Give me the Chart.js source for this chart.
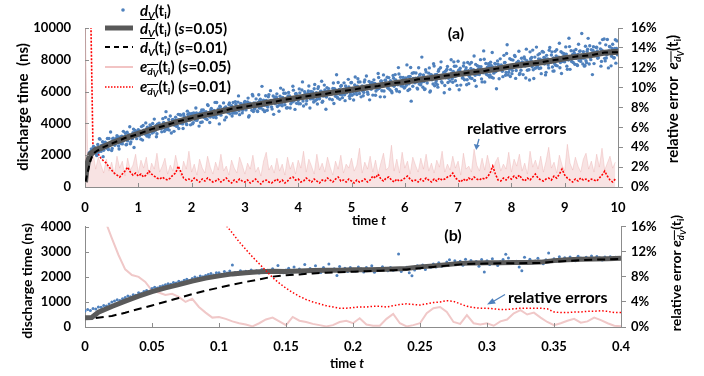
<!DOCTYPE html>
<html>
<head>
<meta charset="utf-8">
<script src="https://cdn.jsdelivr.net/npm/chart.js@4.4.1/dist/chart.umd.min.js"></script>
<style>
  body { margin: 0; width: 704px; height: 376px; overflow: hidden; position: relative; background: #fff;
         font-family: Lato, "Open Sans", sans-serif; font-weight: bold; color: #000; }
  canvas { position: absolute; left: 0; }
  #topChart { top: 0; }
  #botChart { top: 205px; }
  .txt { position: absolute; white-space: nowrap; line-height: 1; }
  .c { transform: translate(-50%, -50%); }
  .rot { transform: translate(-50%, -50%) rotate(-90deg); }
  sub { font-size: 0.68em; vertical-align: -0.28em; line-height: 0; }
  sub sub { font-size: 0.85em; }
  .ov { display: inline-block; border-top: 1.4px solid #000; line-height: 1; padding-top: 1px; }
  .row { position: absolute; left: 102px; height: 20px; display: flex; align-items: center; font-size: 15px; white-space: nowrap; }
  .row svg { width: 34px; height: 20px; margin-right: 4px; flex: none; }
  #arrows { position: absolute; left: 0; top: 0; }
</style>
</head>
<body>
<canvas id="topChart" width="704" height="230"></canvas>
<canvas id="botChart" width="704" height="171"></canvas>

<!-- legend -->
<div class="row" style="top:0px"><svg><circle cx="21" cy="10" r="1.8" fill="#4f81bd"/></svg><span><i>d</i><sub><i>V</i></sub>(t<sub>i</sub>)</span></div>
<div class="row" style="top:18px"><svg><line x1="3" y1="10" x2="31" y2="10" stroke="#595959" stroke-width="5"/></svg><span><span class="ov"><i>d</i><sub><i>V</i></sub></span>(t<sub>i</sub>) (<i>s</i>=0.05)</span></div>
<div class="row" style="top:37px"><svg><line x1="3" y1="10" x2="31" y2="10" stroke="#000" stroke-width="2" stroke-dasharray="5 4"/></svg><span><span class="ov"><i>d</i><sub><i>V</i></sub></span>(t<sub>i</sub>) (<i>s</i>=0.01)</span></div>
<div class="row" style="top:57px"><svg><line x1="3" y1="10" x2="31" y2="10" stroke="#f2c4c4" stroke-width="2"/></svg><span><i>e</i><sub><span class="ov"><i>d</i><sub><i>V</i></sub></span></sub>(t<sub>i</sub>) (<i>s</i>=0.05)</span></div>
<div class="row" style="top:77px"><svg><line x1="3" y1="10" x2="31" y2="10" stroke="#ff0000" stroke-width="1.5" stroke-dasharray="1.5 1.5"/></svg><span><i>e</i><sub><span class="ov"><i>d</i><sub><i>V</i></sub></span></sub>(t<sub>i</sub>) (<i>s</i>=0.01)</span></div>

<!-- titles and notes -->
<div class="txt rot" style="left:22px;top:107px;font-size:15px">discharge time&nbsp;&nbsp;(ns)</div>
<div class="txt rot" style="left:27px;top:281px;font-size:14px">discharge time (ns)</div>
<div class="txt rot" style="left:674px;top:99px;font-size:15px">relative error&nbsp;&nbsp;<i>e</i><sub><span class="ov"><i>d</i><sub><i>V</i></sub></span></sub>(t<sub>i</sub>)</div>
<div class="txt rot" style="left:677px;top:273px;font-size:14px">relative error <i>e</i><sub><span class="ov"><i>d</i><sub><i>V</i></sub></span></sub>(t<sub>i</sub>)</div>
<div class="txt c" style="left:369px;top:220px;font-size:13px">time <i>t</i></div>
<div class="txt c" style="left:347px;top:363px;font-size:13px">time <i>t</i></div>
<div class="txt c" style="left:456px;top:33px;font-size:16px">(a)</div>
<div class="txt c" style="left:453px;top:235px;font-size:16px">(b)</div>
<div class="txt" style="left:467px;top:120px;font-size:16px">relative errors</div>
<div class="txt" style="left:508px;top:289px;font-size:16px">relative errors</div>
<svg id="arrows" width="704" height="376">
  <line x1="479" y1="139" x2="477.3" y2="145" stroke="#4f81bd" stroke-width="1.3"/>
  <polygon points="473.8,144 479.8,145.2 476.2,150" fill="#4f81bd"/>
  <line x1="505" y1="294.5" x2="494" y2="301" stroke="#4f81bd" stroke-width="1.3"/>
  <polygon points="487,304.5 492.5,298.3 495.8,303.4" fill="#4f81bd"/>
</svg>

<script>
// ---- panel (a): 0 <= t <= 10 ----
// discharge time samples, one every 0.02 time units (second set offset by 0.01)
const topDvStep = 0.02;
const topDv = [
  600,1100,1500,1800,2150,1950,2400,2150,2550,2250,
  2440,1980,2670,2350,3010,2240,2550,1910,2750,2810,
  2460,3050,2350,2690,3460,2300,3030,2780,2630,3010,
  3220,2790,2390,3150,3040,2710,3500,2970,3380,2670,
  2900,3270,3790,2830,3100,3410,2480,3560,3370,3360,
  3600,3200,3390,3800,2950,3570,3450,4030,3210,3340,
  3150,3910,3750,3390,3690,4270,3560,3160,3950,3830,
  3850,3730,3470,4300,4040,3670,4740,3610,3840,3580,
  4470,3400,4230,4040,3880,4390,3810,4220,3680,4540,
  4520,4080,3680,4430,4310,3980,4770,4230,4630,3910,
  4460,3980,4660,4330,4970,4190,4480,3830,4650,4700,
  4090,4840,4680,4310,4610,5180,4460,4060,4840,4720,
  4450,4810,5320,4350,4610,4910,3970,5040,4840,4820,
  5290,4220,5040,4840,4680,5190,4600,5000,4460,5310,
  4800,5370,4650,4980,5730,4550,5260,5000,4830,5200,
  5380,4850,5080,5590,4480,5260,5090,5820,4750,4900,
  5270,5100,4750,5800,5450,4970,6330,4860,5140,4790,
  5440,4820,5680,5240,6060,5040,5410,4570,5610,5670,
  5860,5290,4760,5710,5540,5110,6110,5400,5900,4970,
  4980,5940,5720,5240,5610,6340,5410,4880,5880,5710,
  5440,6170,5240,5650,6610,5090,6000,5650,5430,5890,
  6350,4970,6010,5750,5540,6180,5420,5930,5220,6310,
  5550,6010,6650,5400,5730,6100,4890,6250,5990,5960,
  6010,5840,5490,6540,6190,5700,7060,5590,5870,5520,
  6340,5810,6040,6550,5430,6210,6040,6770,5700,5840,
  6570,6000,5470,6420,6250,5810,6810,6100,6610,5670,
  6360,5740,6600,6160,6980,5960,6330,5480,6530,6580,
  5780,6740,6520,6040,6410,7140,6200,5670,6670,6500,
  7050,5670,6710,6450,6240,6880,6120,6630,5920,7010,
  6340,7070,6140,6550,7510,5990,6900,6550,6330,6790,
  6270,6860,7680,6070,6490,6960,5400,7150,6820,6770,
  6840,6610,6160,7500,7050,6420,8170,6270,6630,6170,
  7230,6540,6840,7490,6040,7040,6820,7750,6370,6550,
  7080,6280,7390,6820,7870,6550,7020,5930,7270,7340,
  7580,6840,6150,7380,7160,6590,7870,6950,7600,6390,
  7910,6120,7470,7130,6850,7610,6750,7340,6430,7830,
  6500,7730,7450,6820,7300,8240,7030,6340,7630,7410,
  7070,8010,6800,7330,8560,6600,7770,7310,7030,7620,
  7050,7640,8460,6850,7270,7740,6180,7930,7600,7550,
  7620,7390,6940,8280,7830,7200,8950,7050,7410,6950,
  8010,7320,7620,8270,6830,7820,7600,8540,7160,7340,
  7870,7070,8180,7610,8670,7340,7820,6730,8070,8140,
  8610,6820,8170,7830,7550,8310,7450,8040,7130,8530,
  8480,7740,7050,8280,8060,7490,8770,7850,8500,7290,
  7300,8530,8250,7620,8100,9040,7830,7140,8430,8210,
  7870,8810,7600,8130,9360,7400,8570,8110,7830,8420,
  8320,8090,7640,8980,8530,7900,9650,7740,8100,7640,
  7940,8530,9350,7740,8150,8630,7070,8820,8480,8430,
  8790,8100,8400,9050,7600,8600,8380,9310,7930,8110,
  9280,7490,8840,8500,8220,8980,8120,8710,7790,9190
];
const topDvB = [
  850,1350,1700,1950,2100,2250,2200,2380,2300,2450,
  2070,2300,2180,3040,2320,2620,2850,2310,2540,2670,
  2470,2420,3050,2680,2810,2420,3070,2830,2730,3060,
  3160,2580,3010,2750,3200,2880,3030,3200,2650,3450,
  3270,3270,2720,3220,3040,3640,3220,3490,3040,3410,
  3410,3530,3010,3330,3870,3500,3320,3620,3760,3260,
  3280,3830,3570,3990,3460,3740,3860,3350,3670,4020,
  3890,3660,3810,4030,3510,4380,3910,3710,4250,3870,
  4020,4060,4230,3500,4190,4010,3850,4570,4240,4010,
  4030,3970,4590,4210,4330,3920,4560,4310,4200,4520,
  4630,4050,4470,4210,4650,4310,4450,4620,4060,4850,
  4620,4380,4520,4740,4250,5120,4610,4400,4940,4550,
  4390,4610,4470,5310,4570,4860,5080,4520,4730,4840,
  4960,4950,4390,4870,4690,5280,4840,5110,4640,5010,
  4650,5190,4920,5340,4800,5060,5180,4660,4980,5310,
  5100,5140,5350,4400,5270,5030,4820,5730,5290,4980,
  5540,4780,5310,4970,5520,5090,5260,5460,4740,5740,
  5110,5030,5810,5310,5450,4910,5720,5380,5230,5630,
  5060,5330,5150,6220,5270,5630,5900,5170,5440,5580,
  5720,5700,4970,5590,5350,6090,5530,5860,5260,5720,
  5240,5920,5580,6100,5410,5740,5880,5220,5610,6040,
  5850,5540,5710,5980,5350,6450,5790,5510,6190,5690,
  5890,6030,5330,5730,6410,5910,5660,6020,6190,5530,
  5960,6000,6200,5250,6130,5880,5670,6570,6130,5820,
  6380,5620,6140,5800,6350,5920,6090,6290,5560,6560,
  5770,6040,5860,6920,5970,6340,6600,5880,6140,6280,
  6030,5950,6730,6220,6360,5830,6640,6300,6150,6540,
  6520,6500,5770,6390,6140,6890,6320,6650,6050,6510,
  6040,6720,6380,6900,6210,6540,6680,6020,6410,6840,
  6590,6730,6030,6430,7110,6610,6360,6720,6890,6230,
  6790,6400,6610,6940,6150,7520,6690,6340,7190,6560,
  7170,6220,6870,6480,7090,6580,6790,7040,6130,7380,
  6870,6910,7160,5970,7060,6750,6480,7610,7060,6670,
  6440,7280,6850,7500,6630,7040,7210,6380,6870,7400,
  6570,6900,6670,8000,6810,7260,7590,6680,7000,7180,
  7350,7320,6410,7180,6870,7800,7090,7500,6750,7320,
  6970,6860,7830,7200,7370,6700,7710,7280,7090,7580,
  7390,7560,6610,7180,8030,7400,7090,7540,7750,6920,
  7850,6900,7550,7160,7770,7260,7470,7720,6810,8060,
  7670,7280,7490,7820,7030,8400,7570,7220,8070,7440,
  7130,7980,7550,8200,7330,7740,7910,7080,7570,8100,
  7750,7800,8050,6860,7950,7640,7370,8500,7950,7560,
  7370,7700,7470,8800,7610,8060,8390,7480,7800,7980,
  8150,8120,7210,7980,7670,8600,7890,8300,7550,8120,
  7770,7660,8630,8000,8170,7500,8510,8080,7890,8380,
  8190,8360,7410,7980,8830,8200,7890,8340,8550,7720,
  8650,7690,8340,7950,8560,8050,8260,8510,7600,8850,
  7820,8660,8230,8880,8010,8420,8590,7760,8250,8780,
  8550,8150,8360,8690,7900,9270,8440,8090,8940,8310,
  8520,8560,8810,7620,8710,8400,8130,9260,8710,8320
];

// smoothed curve, s = 0.05
const topMeanT = [0,0.02,0.05,0.1,0.2,0.3,
  0.5,0.75,1,1.25,1.5,1.75,2,2.25,2.5,2.75,3,3.25,3.5,3.75,4,4.25,4.5,4.75,5,5.25,
  5.5,5.75,6,6.25,6.5,6.75,7,7.25,7.5,7.75,8,8.25,8.5,8.75,9,9.25,9.5,9.75,10];
const topMean = [300,1000,1500,2050,2330,2450,
  2750,3060,3350,3620,3880,4110,4350,4540,4720,4900,5060,5190,5350,5470,5620,5740,5870,5990,6120,6240,
  6370,6500,6620,6750,6850,6970,7100,7200,7320,7440,7600,7700,7820,7940,8100,8200,8300,8450,8500];

// smoothed curve, s = 0.01
const topDashT = [0.01,0.05,0.1,0.15,0.2,0.3,
  0.5,0.75,1,1.25,1.5,1.75,2,2.25,2.5,2.75,3,3.25,3.5,3.75,4,4.25,4.5,4.75,5,5.25,
  5.5,5.75,6,6.25,6.5,6.75,7,7.25,7.5,7.75,8,8.25,8.5,8.75,9,9.25,9.5,9.75,10];
const topDash = [350,930,1650,2070,2220,2430,
  2730,3080,3330,3640,3860,4130,4330,4560,4700,4920,5040,5210,5330,5490,5600,5760,5850,6010,6100,6260,
  6350,6520,6600,6770,6830,6990,7080,7220,7300,7460,7580,7720,7800,7960,8080,8220,8290,8460,8480];

// relative errors (%), one value every 0.05 time units
const topErrStep = 0.05;
const topErr05 = [
  18,3.2,2.4,3.5,1.8,3.0,2.2,1.4,2.8,1.6,
  2.5,1.2,3.1,1.9,2.6,1.1,2.9,1.7,2.2,3.3,
  1.4,2.7,1.9,3.0,1.2,2.4,1.8,3.4,1.5,2.1,
  2.9,1.3,2.2,1.6,3.2,2.0,1.1,2.6,1.8,3.6,
  1.5,2.3,1.2,2.8,1.9,1.4,3.1,2.0,1.3,2.5,
  1.7,3.3,1.6,2.1,1.2,2.7,1.9,1.4,3.0,2.2,
  1.3,2.4,1.8,3.2,1.5,2.0,1.1,2.6,3.5,1.7,
  2.2,1.4,2.9,1.6,2.3,1.2,3.0,1.8,2.5,1.3,
  2.7,1.9,3.6,1.5,2.8,2.1,1.3,3.3,1.7,2.4,
  1.5,3.0,2.0,1.2,2.6,1.8,3.2,1.4,2.3,1.9,
  2.9,1.6,2.2,3.9,1.4,2.5,1.8,3.1,1.5,2.7,
  1.3,2.4,3.4,1.7,2.0,4.2,1.6,2.8,1.4,3.5,
  1.9,2.6,1.3,3.0,2.2,1.5,2.9,1.8,3.3,1.6,
  2.4,1.4,2.7,2.0,3.6,1.5,2.3,1.7,3.1,1.9,
  2.6,1.2,3.4,1.8,2.1,1.5,3.8,2.2,1.6,2.9,
  1.7,3.2,2.0,1.4,2.5,3.0,1.6,2.3,1.8,3.5,
  1.5,2.8,2.1,3.3,1.6,2.4,1.3,3.6,2.0,2.7,
  1.8,3.1,1.5,2.6,4.0,1.9,2.5,1.4,3.2,2.2,
  1.6,4.3,2.4,1.7,3.0,2.1,1.5,2.8,3.4,1.8,
  2.6,1.5,3.3,2.0,3.9,1.7,2.4,3.1,1.9,2.5
];
const topErr01 = [
  null,null,20,3.8,3.6,3.3,2.9,2.6,2.4,2.0,
  1.7,1.4,1.2,1.0,1.3,1.6,2.0,1.5,1.2,1.4,
  1.1,1.3,1.0,1.2,1.6,1.3,1.1,0.9,0.8,1.0,
  0.8,0.7,0.9,1.2,1.4,2.1,1.5,0.9,0.7,0.8,
  0.6,0.9,0.7,0.5,0.8,0.6,0.9,0.7,0.5,0.6,
  0.8,0.5,0.7,0.9,0.6,0.4,0.7,0.5,0.8,0.6,
  0.5,0.7,0.4,0.6,0.8,0.5,0.3,0.6,0.7,0.5,
  0.4,0.6,0.8,0.5,0.7,0.4,0.6,0.9,1.0,0.7,
  0.8,0.5,0.6,0.9,0.7,0.5,0.8,0.6,0.4,0.7,
  0.6,0.9,0.7,0.5,0.8,1.0,0.6,0.7,0.5,0.8,
  0.6,0.4,0.7,0.5,0.6,0.8,0.5,0.7,1.1,0.9,
  1.3,0.8,0.6,0.9,1.0,0.7,0.5,0.8,0.6,0.7,
  0.9,1.1,0.8,0.6,0.7,0.5,0.8,0.6,0.9,0.7,
  0.5,0.8,0.6,0.9,0.7,0.8,1.0,1.1,1.4,0.9,
  0.7,0.5,0.8,0.6,0.9,0.7,1.0,0.8,0.7,0.9,
  0.8,1.0,1.4,2.1,1.3,0.7,0.6,0.9,0.7,1.0,
  0.8,1.1,0.9,1.2,0.8,0.6,0.9,0.7,1.0,1.3,
  0.9,0.7,0.6,0.8,0.9,0.7,1.1,0.9,1.3,1.8,
  1.2,0.9,0.7,0.5,0.8,0.6,0.9,0.7,0.8,0.6,
  0.8,0.7,0.6,0.9,1.2,1.6,1.1,0.7,0.5,0.8
];

// ---- panel (b): 0 <= t <= 0.4 ----
const botDvStep = 0.002;
const botDv = [
  640,700,660,740,720,
  800,790,860,840,920,
  1000,1040,1090,1060,1130,
  1180,1240,1210,1290,1270,
  1370,1340,1420,1460,1410,
  1540,1590,1560,1620,1650,
  1690,1730,1710,1780,1760,
  1830,1800,1870,1910,1860,
  1940,2000,1960,2040,2010,
  2060,2100,2140,2080,2170,
  2170,2110,2220,2160,2240,
  2480,2180,2120,2250,2200,
  2230,2140,2280,2190,2250,
  2160,2300,2220,2270,2180,
  2330,2200,2460,2250,2170,
  2280,2350,2190,2400,2260,
  2320,2180,2500,2270,2340,
  2220,2450,2300,2180,2380,
  2290,2510,2240,2330,2060,
  2420,2280,2350,2220,2380,
  2310,2240,2400,2330,2200,
  2380,2270,2450,2190,2330,
  2290,2410,2350,2250,2380,
  2270,2340,2910,2220,2300,
  2390,2170,2050,2280,2450,
  2360,2480,2300,2420,2390,
  2510,2400,2560,2430,2470,
  2590,2680,2520,2640,2550,
  2620,2470,2700,2580,2650,
  2530,2610,2430,2690,2200,
  2640,2500,2720,2570,2460,
  2600,2690,2900,2750,2590,
  2540,2620,2400,2250,2780,
  2590,2700,2550,2630,2740,
  2600,2520,2680,2950,2660,
  2720,2630,2800,2690,2760,
  2680,2790,2710,2640,2820,
  2750,2690,2780,2720,2830,
  2700,2810,2760,2670,2790,
  2740,2800,2710,2780,2750
];
const botMeanT = [0,0.005,0.01,0.02,0.03,0.04,0.05,0.06,0.07,0.08,0.09,0.1,
  0.11,0.12,0.13,0.14,0.15,0.16,0.17,0.18,0.19,0.2,0.21,0.22,0.23,0.24,0.25,0.26,0.27,0.28,0.29,0.3,
  0.31,0.32,0.33,0.34,0.35,0.36,0.37,0.38,0.39,0.4];
const botMean = [370,380,590,820,1030,1230,1410,1560,1690,1830,1950,2040,
  2120,2170,2210,2230,2220,2240,2260,2270,2270,2290,2290,2300,2320,2340,2400,2440,2490,2540,2550,2560,
  2560,2570,2570,2590,2650,2680,2700,2710,2720,2740];
const botDashT = [0.008,0.02,0.03,0.04,0.05,0.06,0.07,0.08,0.09,0.1,
  0.11,0.12,0.13,0.14,0.15,0.16,0.17,0.18,0.19,0.2,0.21,0.22,0.23,0.24,0.25,0.26,0.27,0.28,0.29,0.3,
  0.31,0.32,0.33,0.34,0.35,0.36,0.37,0.38,0.39,0.4];
const botDash = [360,440,570,720,860,1010,1160,1310,1450,1570,
  1690,1800,1900,2010,2070,2100,2140,2170,2190,2210,2230,2250,2270,2300,2350,2400,2450,2500,2520,2530,
  2540,2540,2550,2560,2610,2640,2670,2690,2700,2720];

// relative errors (%), one value every 0.005 time units
const botErrStep = 0.005;
const botErr05Start = 0.015;
const botErr05 = [
  17,14.2,11.5,9.2,8.3,8.0,7.2,5.8,5.5,5.1,
  5.3,4.8,4.0,4.5,3.2,2.3,1.5,1.6,1.3,0.9,
  0.6,0.4,0.1,0.6,1.2,1.5,0.9,0.3,1.6,1.0,
  0.8,0.5,0.3,0.1,0.3,0.8,1.0,0.6,1.4,0.4,
  0.2,0.2,1.3,2.1,0.6,0.1,0.3,0.6,2.2,3.0,
  3.2,2.4,0.8,0.5,1.9,0.6,0.4,0.6,0.2,0.9,
  1.2,2.2,2.7,2.0,2.3,1.5,0.8,0.3,0.6,1.0,
  1.3,0.7,0.9,1.5,1.1,0.6,0.2,0.1
];
const botErr01Start = 0.1;
const botErr01 = [
  18,16.3,15.0,13.6,12.4,11.2,10.1,9.0,7.9,7.0,
  6.2,5.5,4.9,4.4,4.0,3.7,3.4,3.2,3.0,3.0,
  3.1,3.2,3.2,3.3,3.3,3.2,3.4,3.6,3.7,3.6,
  3.5,3.7,3.9,4.0,4.2,4.1,3.7,3.3,3.1,3.0,
  3.0,2.9,2.8,2.8,2.9,3.0,3.0,3.0,3.0,2.9,
  2.4,2.3,2.3,2.4,2.4,2.5,2.5,2.6,2.5,2.3,
  2.3
];

function pairs(ts, vs) { return vs.map((v, i) => ({ x: ts[i], y: v })); }
function evenly(t0, dt, vs) { return vs.map((v, i) => ({ x: +(t0 + i * dt).toFixed(4), y: v })); }

Chart.defaults.font.family = 'Lato';
Chart.defaults.color = '#000';
const tickFont = { family: 'Lato', size: 13, weight: 'bold' };
const axisGray = '#8c8c8c';
const dotBlue = '#4f81bd';

// short inward tick marks on the left and bottom axes
const innerTicks = {
  id: 'innerTicks',
  afterDraw(chart) {
    const ctx = chart.ctx, a = chart.chartArea;
    ctx.save();
    ctx.strokeStyle = axisGray;
    ctx.lineWidth = 1;
    ['x', 'y'].forEach(id => {
      const s = chart.scales[id];
      s.ticks.forEach(t => {
        const p = Math.round(s.getPixelForValue(t.value)) + 0.5;
        ctx.beginPath();
        if (id === 'x') { ctx.moveTo(p, a.bottom); ctx.lineTo(p, a.bottom - 4); }
        else { ctx.moveTo(a.left, p); ctx.lineTo(a.left + 4, p); }
        ctx.stroke();
      });
    });
    ctx.restore();
  }
};

function makeChart(id, o) {
  return new Chart(document.getElementById(id), {
    type: 'scatter',
    data: { datasets: o.datasets },
    plugins: [innerTicks],
    options: {
      responsive: false,
      animation: false,
      layout: { padding: { top: o.padTop, left: 0, right: 0, bottom: 0 } },
      plugins: { legend: { display: false }, tooltip: { enabled: false } },
      scales: {
        x: {
          type: 'linear', min: 0, max: o.xMax,
          ticks: { stepSize: o.xStep, font: tickFont, padding: o.xPad, maxRotation: 0,
                   callback: v => String(+v.toFixed(2)) },
          grid: { display: false, drawTicks: false },
          border: { color: axisGray },
          afterFit: s => { s.height = o.xHeight; }
        },
        y: {
          position: 'left', min: 0, max: o.yMax,
          ticks: { stepSize: o.yStep, font: tickFont, padding: 14, callback: v => String(v) },
          grid: { display: false, drawTicks: false },
          border: { color: axisGray },
          afterFit: s => { s.width = 85; }
        },
        y1: {
          position: 'right', min: 0, max: 16,
          ticks: { stepSize: o.rStep, font: tickFont, padding: o.rPad, callback: v => v + '%' },
          grid: { drawOnChartArea: false, tickLength: 5, color: axisGray },
          border: { color: axisGray },
          afterFit: s => { s.width = o.rWidth; }
        }
      }
    }
  });
}

makeChart('topChart', {
  padTop: 28, xMax: 10, xStep: 1, xPad: 13, xHeight: 43,
  yMax: 10000, yStep: 2000, rStep: 2, rPad: 8, rWidth: 86,
  datasets: [
    { data: pairs(topDashT, topDash), yAxisID: 'y', showLine: true, borderColor: '#000',
      borderWidth: 2, borderDash: [6, 4], pointRadius: 0, order: 0 },
    { data: pairs(topMeanT, topMean), yAxisID: 'y', showLine: true, borderColor: '#595959',
      borderWidth: 6, pointRadius: 0, order: 1 },
    { data: evenly(0, topDvStep, topDv), yAxisID: 'y', pointRadius: 1.7, pointBorderWidth: 0,
      pointBackgroundColor: dotBlue, order: 2 },
    { data: evenly(0.01, topDvStep, topDvB), yAxisID: 'y', pointRadius: 1.7, pointBorderWidth: 0,
      pointBackgroundColor: dotBlue, order: 2 },
    { data: evenly(0, topErrStep, topErr01), yAxisID: 'y1', showLine: true, borderColor: '#ff0000',
      borderWidth: 1.6, borderDash: [2, 1.5], pointRadius: 0, order: 3 },
    { data: evenly(0, topErrStep, topErr05), yAxisID: 'y1', showLine: true,
      borderColor: 'rgba(232,165,165,0.45)', borderWidth: 0.8, backgroundColor: 'rgba(242,200,200,0.5)',
      fill: 'origin', pointRadius: 0, order: 4 }
  ]
});

makeChart('botChart', {
  padTop: 15, xMax: 0.4, xStep: 0.05, xPad: 12, xHeight: 49,
  yMax: 4000, yStep: 1000, rStep: 4, rPad: 5, rWidth: 83,
  datasets: [
    { data: evenly(botErr01Start, botErrStep, botErr01), yAxisID: 'y1', showLine: true,
      borderColor: '#ff0000', borderWidth: 1.5, borderDash: [1.5, 2], pointRadius: 0, order: 0 },
    { data: pairs(botDashT, botDash), yAxisID: 'y', showLine: true, borderColor: '#000',
      borderWidth: 2, borderDash: [8, 5], pointRadius: 0, order: 1 },
    { data: pairs(botMeanT, botMean), yAxisID: 'y', showLine: true, borderColor: '#5a5a5a',
      borderWidth: 5, pointRadius: 0, order: 2 },
    { data: evenly(0, botDvStep, botDv), yAxisID: 'y', pointRadius: 1.5, pointBorderWidth: 0,
      pointBackgroundColor: dotBlue, order: 3 },
    { data: evenly(botErr05Start, botErrStep, botErr05), yAxisID: 'y1', showLine: true,
      borderColor: '#f0c8c8', borderWidth: 2, pointRadius: 0, order: 4 }
  ]
});
</script>
</body>
</html>
